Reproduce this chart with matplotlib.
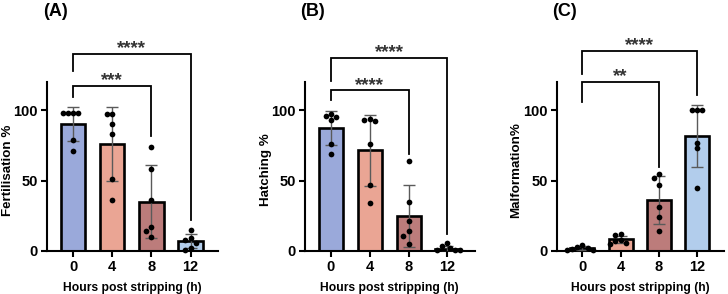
import numpy as np
import matplotlib
matplotlib.use("Agg")
import matplotlib.pyplot as plt

plt.rcParams['font.family'] = ['Liberation Sans', 'DejaVu Sans']
plt.rcParams['font.weight'] = 'bold'

categories = ["0", "4", "8", "12"]
bar_colors = ["#9AA9DA", "#EAA594", "#BC7C7B", "#B2CDEC"]

# Panel A: Fertilisation %
fert_mean = [90, 76, 35, 7]
fert_sd = [12, 26, 26, 5]
fert_points = [
    [98, 98, 98, 98, 79, 71],
    [97, 97, 90, 83, 51, 36],
    [74, 58, 36, 17, 14, 10],
    [15, 9, 8, 6, 2, 1],
]
# Panel B: Hatching %
hatch_mean = [87.5, 71.5, 25, 1.5]
hatch_sd = [12, 25, 22, 2]
hatch_points = [
    [97, 96, 95, 93, 76, 69],
    [94, 93, 92, 76, 47, 34],
    [64, 35, 21, 14, 11, 5],
    [5.5, 3.5, 2, 1, 0.5, 0.5],
]
# Panel C: Malformation %
malf_mean = [2, 8.5, 36, 82]
malf_sd = [1.5, 2.5, 17, 22]
malf_points = [
    [4, 3, 2, 1.5, 1, 1],
    [12, 11.5, 8, 7, 6, 5],
    [55, 52, 47, 31, 24, 14],
    [100, 100, 100, 77, 73, 45],
]

panel_titles = ["(A)", "(B)", "(C)"]
ylabels = ["Fertilisation %", "Hatching %", "Malformation%"]
xlabel = "Hours post stripping (h)"

# significance: (group_a, group_b, stars, bracket_y, left_leg_end, right_leg_end)
sig_A = [(0, 2, "***", 117, 109, 82), (0, 3, "****", 140, 128, 22)]
sig_B = [(0, 2, "****", 114, 107, 69), (0, 3, "****", 137, 121, 12)]
sig_C = [(0, 2, "**", 120, 106, 60), (0, 3, "****", 142, 126, 111)]

axes_left = [47, 304.7, 556.7]
axes_right = [218, 474.7, 724]
ylabel_x = [13.5, 272, 522]

W, H = 728, 294
fig = plt.figure(figsize=(W / 100, H / 100), dpi=100)


def swarm(values, ax, x0):
    bbox = ax.get_window_extent()
    xl = ax.get_xlim(); yl = ax.get_ylim()
    sx = bbox.width / (xl[1] - xl[0])
    sy = bbox.height / (yl[1] - yl[0])
    d = 5.2
    placed = []
    offs = []
    for v in values:
        py = v * sy
        best = None
        for k in range(0, 20):
            for sgn in ([0] if k == 0 else [-1, 1]):
                px = sgn * k * d / 2
                ok = all((px - qx) ** 2 + (py - qy) ** 2 >= d * d * 0.95 for qx, qy in placed)
                if ok:
                    best = px
                    break
            if best is not None:
                break
        placed.append((best, py))
        offs.append(best / sx)
    return [x0 + o for o in offs]


datasets = [
    (fert_mean, fert_sd, fert_points, sig_A),
    (hatch_mean, hatch_sd, hatch_points, sig_B),
    (malf_mean, malf_sd, malf_points, sig_C),
]

for i, (means, sds, pts, sigs) in enumerate(datasets):
    l = axes_left[i] / W
    w = (axes_right[i] - axes_left[i]) / W
    b = 1 - 251 / H
    h = 169 / H
    ax = fig.add_axes([l, b, w, h])
    x = np.arange(len(categories))
    ax.set_xlim(-0.67, 3.7)
    ax.set_ylim(0, 120)
    ax.bar(x, means, width=0.62, color=bar_colors, edgecolor="black", linewidth=1.9, zorder=2)
    ax.errorbar(x, means, yerr=sds, fmt="none", ecolor="#5a5a5a", elinewidth=1.0,
                capsize=4.5, capthick=1.0, zorder=3)
    for j, vals in enumerate(pts):
        xs = swarm(vals, ax, j)
        ax.scatter(xs, vals, s=17, color="black", zorder=4, clip_on=False, linewidths=0)
    for (g1, g2, stars, by, l1, l2) in sigs:
        ax.plot([g1, g1, g2, g2], [l1, by, by, l2], color="black", lw=1.3,
                clip_on=False, zorder=5, solid_joinstyle="miter")
        ax.text((g1 + g2) / 2, by + 0.5, stars, ha="center", va="baseline", fontsize=13.5,
                fontweight="bold", color="#333333", clip_on=False)
    ax.set_xticks(x)
    ax.set_xticklabels(categories, fontsize=10.5, fontweight="bold")
    ax.set_yticks([0, 50, 100])
    ax.set_yticklabels(["0", "50", "100"], fontsize=10.5, fontweight="bold")
    ax.spines["top"].set_visible(False)
    ax.spines["right"].set_visible(False)
    ax.spines["left"].set_linewidth(1.5)
    ax.spines["bottom"].set_linewidth(1.5)
    ax.tick_params(width=1.5, length=4.5, pad=2)
    ax.set_ylabel(ylabels[i], fontsize=9.6, fontweight="bold")
    ax.yaxis.set_label_coords((ylabel_x[i] - axes_left[i]) / (axes_right[i] - axes_left[i]), 0.48)
    ax.set_xlabel(xlabel, fontsize=8.7, fontweight="bold", labelpad=6)
    fig.text((axes_left[i] + 8) / W, 1 - 12 / H, panel_titles[i], fontsize=13,
             fontweight="bold", ha="center", va="center")

fig.savefig("out.png", dpi=100)
